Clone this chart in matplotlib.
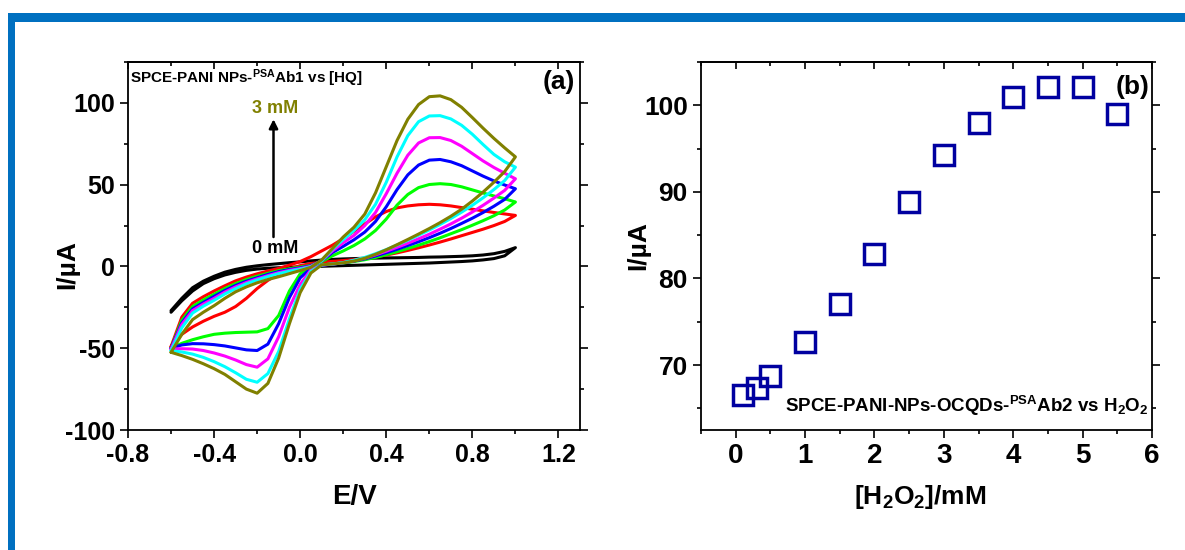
import matplotlib
matplotlib.use('Agg')
import matplotlib.pyplot as plt
from matplotlib.patches import Rectangle
from matplotlib.ticker import MultipleLocator

plt.rcParams['font.family'] = ['Liberation Sans', 'DejaVu Sans']
plt.rcParams['mathtext.default'] = 'regular'
plt.rcParams['axes.unicode_minus'] = False

# ---- panel (a): CVs of SPCE-PANI NPs-Ab1 with HQ (0 -> 3 mM) ----
# potential grid of the forward (anodic) and reverse (cathodic) sweeps, V
E_fwd = [-0.6, -0.55, -0.5, -0.45, -0.4, -0.35, -0.3, -0.25, -0.2, -0.15, -0.1, -0.05,
         0.0, 0.05, 0.1, 0.15, 0.2, 0.25, 0.3, 0.35, 0.4, 0.45, 0.5, 0.55, 0.6, 0.65,
         0.7, 0.75, 0.8, 0.85, 0.9, 0.95, 1.0]
E_rev = E_fwd[::-1]

black_fwd = [-27, -19.5, -13, -9, -6, -3.5, -1.8, -0.5, 0.4, 1.1, 1.7, 2.3, 2.8, 3.4, 3.9,
             4.3, 4.6, 4.8, 5.0, 5.1, 5.2, 5.3, 5.4, 5.5, 5.7, 5.8, 6.0, 6.2, 6.5, 7.0,
             7.8, 9.2, 11.5]
black_rev = [11.5, 6.5, 4.8, 4.0, 3.4, 3.0, 2.7, 2.4, 2.1, 1.9, 1.7, 1.5, 1.3, 1.1, 0.9,
             0.7, 0.5, 0.3, 0.1, -0.1, -0.3, -0.5, -0.8, -1.1, -1.6, -2.4, -3.6, -5.2,
             -7.5, -10.5, -15, -21, -28]
red_fwd = [-49, -31, -22.5, -18.5, -15, -11.8, -8.8, -6.5, -4.5, -2.8, -1.2, 0.8, 3, 6,
           9.5, 13, 17, 21.5, 26, 30.3, 33.6, 35.8, 37, 37.7, 38, 37.7, 37, 36, 35, 34,
           33, 32.1, 31.2]
red_rev = [31.2, 27.5, 25, 22.8, 20.8, 18.8, 16.8, 14.9, 13.1, 11.4, 9.8, 8.3, 7, 5.9, 5,
           4.2, 3.6, 3.1, 2.6, 1.8, 0.5, -1.5, -4.5, -8.5, -13.5, -19.5, -24.5, -28,
           -30.5, -33.5, -37, -41.5, -49]
green_fwd = [-50, -33, -24.5, -20.5, -17, -13.5, -10.5, -8, -6, -4.2, -2.6, -1.4, -0.4,
             0.6, 3, 6.5, 9.5, 12.8, 16.8, 22, 29, 37.5, 44, 48.2, 50.1, 50.6, 50.1, 48.7,
             46.8, 44.9, 43.1, 41.4, 39.4]
green_rev = [39.4, 34.5, 31, 28, 25.2, 22.5, 20, 17.5, 15.2, 13, 11, 9, 7.2, 5.5, 4.1, 3,
             2.1, 1.5, 1.0, 0, -4.5, -15, -30, -38, -40, -40.2, -40.4, -40.8, -41.5, -43,
             -44.8, -47, -50]
blue_fwd = [-50, -34.5, -26, -22, -18.3, -14.7, -11.6, -9, -6.9, -4.9, -3.2, -1.9, -0.9,
            0.4, 3.5, 8.5, 12.3, 16.3, 21, 27.5, 36.5, 47, 56, 62, 65, 65.4, 64, 61.6,
            58.4, 55.2, 52.3, 49.8, 47.5]
blue_rev = [47.5, 41, 36.8, 33, 29.5, 26.3, 23.2, 20.3, 17.6, 15.1, 12.8, 10.5, 8.4, 6.4,
            4.7, 3.3, 2.2, 1.4, 0.8, -1, -7, -19, -35, -47.5, -51.4, -51, -49.8, -48.6,
            -47.8, -47.3, -47.2, -48, -50]
magenta_fwd = [-50.5, -35.5, -27, -23, -19.5, -15.7, -12.5, -9.8, -7.6, -5.6, -3.8, -2.4,
               -1.3, 0.1, 3.5, 9.5, 14.5, 19, 25, 33, 44.5, 57, 68, 75.5, 78.7, 78.8, 77,
               73.5, 69, 64.5, 60.5, 57, 53.6]
magenta_rev = [53.6, 46.5, 41.8, 37.4, 33.3, 29.5, 26, 22.8, 19.7, 16.9, 14.2, 11.7, 9.3,
               7.1, 5.1, 3.5, 2.3, 1.4, 0.8, -2, -11, -25, -43, -56.5, -61.6, -60,
               -57.2, -54.8, -52.9, -51.4, -50.5, -50.3, -50.5]
cyan_fwd = [-51.5, -37.5, -28.5, -24.3, -20.7, -16.8, -13.5, -10.6, -8.3, -6.2, -4.4, -2.9,
            -1.7, -0.2, 3.5, 10.5, 16.5, 22, 28.5, 38, 51.5, 67, 80, 88.5, 92, 92.2, 90.2,
            86.3, 80.8, 74.5, 68.5, 64, 60.7]
cyan_rev = [60.7, 52.5, 47, 42, 37.4, 33.2, 29.3, 25.7, 22.3, 19.1, 16, 13.1, 10.3, 7.8,
            5.5, 3.8, 2.4, 1.5, 0.9, -3, -14, -32, -52, -65.5, -70.8, -69, -65, -61.3,
            -58.2, -55.6, -53.6, -52.3, -51.5]
olive_fwd = [-52.5, -41.5, -32.5, -28, -24, -19.5, -15.5, -12.5, -10, -8, -6.3, -4.4, -2.5,
             -0.5, 4, 11, 18, 24, 32, 45, 61, 77, 90, 99, 103.8, 104.3, 102, 97.3,
             91, 84.5, 78.3, 72.5, 67]
olive_rev = [67, 58, 51.5, 45.5, 40, 35, 30.7, 26.8, 23.2, 19.8, 16.5, 13.3, 10.2, 7.4, 5,
             3.3, 2.2, 1.5, 1.0, -4, -16, -35, -56, -71.5, -77.5, -75, -70.5, -66,
             -62.5, -59.5, -56.8, -54.5, -52.5]

cv_curves = [(black_fwd, black_rev, 'black'),
             (red_fwd, red_rev, '#ff0000'),
             (green_fwd, green_rev, '#00ff00'),
             (blue_fwd, blue_rev, '#0000ff'),
             (magenta_fwd, magenta_rev, '#ff00ff'),
             (cyan_fwd, cyan_rev, '#00ffff'),
             (olive_fwd, olive_rev, '#808000')]

xticks_a = [-0.8, -0.4, 0.0, 0.4, 0.8, 1.2]
xlabels_a = ['-0.8', '-0.4', '0.0', '0.4', '0.8', '1.2']
yticks_a = [-100, -50, 0, 50, 100]
ylabels_a = ['-100', '-50', '0', '50', '100']

# ---- panel (b): peak current vs H2O2 ----
h2o2_conc = [0.1, 0.3, 0.5, 1.0, 1.5, 2.0, 2.5, 3.0, 3.5, 4.0, 4.5, 5.0, 5.5]
peak_current = [66.5, 67.4, 68.7, 72.7, 77.1, 82.8, 88.8, 94.3, 98.0, 101.0, 102.1, 102.1, 99.0]

xticks_b = [0, 1, 2, 3, 4, 5, 6]
xlabels_b = ['0', '1', '2', '3', '4', '5', '6']
yticks_b = [70, 80, 90, 100]
ylabels_b = ['70', '80', '90', '100']

W, H = 1185, 550
fig = plt.figure(figsize=(W / 100, H / 100), dpi=100)

# blue frame of the slide
frame = '#0070c0'
fig.add_artist(Rectangle((8 / W, (H - 22) / H), 1 - 8 / W, 9 / H,
                         transform=fig.transFigure, color=frame, lw=0))
fig.add_artist(Rectangle((8 / W, 0), 7 / W, (H - 14) / H,
                         transform=fig.transFigure, color=frame, lw=0))

ax1 = fig.add_axes([128 / W, 120 / H, 452 / W, 368 / H])
ax2 = fig.add_axes([701 / W, 120 / H, 451 / W, 368 / H])


def style_axes(ax, xminor, yminor):
    ax.xaxis.set_minor_locator(MultipleLocator(xminor))
    ax.yaxis.set_minor_locator(MultipleLocator(yminor))
    ax.tick_params(which='both', direction='out', width=1.2, top=False, right=True, pad=4)
    ax.tick_params(which='major', length=5.5)
    ax.tick_params(which='minor', length=3)
    for sp in ax.spines.values():
        sp.set_linewidth(1.3)
    top = ax.secondary_xaxis('top')
    top.set_xticks(ax.get_xticks())
    top.xaxis.set_minor_locator(MultipleLocator(xminor))
    top.tick_params(which='both', direction='in', width=1.2, labeltop=False)
    top.tick_params(which='major', length=5)
    top.tick_params(which='minor', length=3)
    top.spines['top'].set_linewidth(1.3)


# ---------- (a) ----------
for fwd, rev, col in cv_curves:
    ax1.plot(E_fwd + E_rev[1:], fwd + rev[1:], color=col, lw=2.2,
             solid_joinstyle='round', solid_capstyle='round')

ax1.set_xlim(-0.8, 1.3)
ax1.set_ylim(-100, 125)
ax1.set_xticks(xticks_a, xlabels_a, fontsize=18, fontweight='bold')
ax1.set_yticks(yticks_a, ylabels_a, fontsize=18, fontweight='bold')
style_axes(ax1, 0.2, 25)

ax1.set_xlabel('E/V', fontsize=20, fontweight='bold')
ax1.xaxis.set_label_coords(0.5, -0.148)
ax1.set_ylabel('I/µA', fontsize=19, fontweight='bold')
ax1.yaxis.set_label_coords(-0.108, 0.45)

ax1.text(0.004, 0.942, 'SPCE-PANI NPs-$^{PSA}$Ab1 vs [HQ]', transform=ax1.transAxes,
         ha='left', va='baseline', fontsize=11, fontweight='bold')
ax1.text(0.99, 0.946, '(a)', transform=ax1.transAxes, ha='right', va='center',
         fontsize=19, fontweight='bold')
ax1.annotate('', xy=(-0.124, 90), xytext=(-0.124, 18),
             arrowprops=dict(arrowstyle='-|>', color='black', lw=1.8,
                             mutation_scale=13, shrinkA=0, shrinkB=0))
ax1.text(-0.116, 96.3, '3 mM', ha='center', va='center', fontsize=13,
         fontweight='bold', color='#808000')
ax1.text(-0.116, 10.7, '0 mM', ha='center', va='center', fontsize=13,
         fontweight='bold', color='black')

# ---------- (b) ----------
ax2.plot(h2o2_conc, peak_current, 's', ms=14.5, mfc='none', mec='#0000a0', mew=2.5)
ax2.set_xlim(-0.5, 6.0)
ax2.set_ylim(62.5, 105)
ax2.set_xticks(xticks_b, xlabels_b, fontsize=20, fontweight='bold')
ax2.set_yticks(yticks_b, ylabels_b, fontsize=19, fontweight='bold')
style_axes(ax2, 0.5, 5)

ax2.set_xlabel('[H$_2$O$_2$]/mM', fontsize=19, fontweight='bold')
ax2.xaxis.set_label_coords(0.487, -0.145)
ax2.set_ylabel('I/µA', fontsize=19, fontweight='bold')
ax2.yaxis.set_label_coords(-0.112, 0.5)

ax2.text(0.993, 0.049, 'SPCE-PANI-NPs-OCQDs-$^{PSA}$Ab2 vs H$_2$O$_2$',
         transform=ax2.transAxes, ha='right', va='baseline', fontsize=13.5,
         fontweight='bold')
ax2.text(0.995, 0.932, '(b)', transform=ax2.transAxes, ha='right', va='center',
         fontsize=19, fontweight='bold')

fig.savefig('out.png', dpi=100)
